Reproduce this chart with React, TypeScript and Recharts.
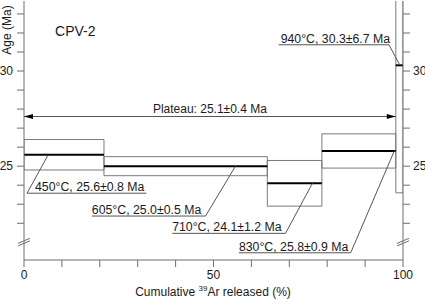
import React from "react";
import {
  ComposedChart,
  XAxis,
  YAxis,
  ReferenceArea,
  ReferenceLine,
  ReferenceDot,
} from "recharts";

// step-heating data
const stepStart = [0, 21.1, 64.2, 78.6, 98.1];
const stepEnd = [21.1, 64.2, 78.6, 98.1, 100];
const stepAge = [25.6, 25.0, 24.1, 25.8, 30.3];
const stepErr = [0.8, 0.5, 1.2, 0.9, 6.7];
const stepTemp = [450, 605, 710, 830, 940];

const plateauAge = 25.1;
const plateauErr = 0.4;
const plateauFrom = 0;
const plateauTo = 98.1;

const sampleName = "CPV-2";

const xTicks = [0, 10, 20, 30, 40, 50, 60, 70, 80, 90, 100];
const xTickLabels = [0, 50, 100];
const yTicks = [22, 23, 24, 25, 26, 27, 28, 29, 30, 31, 32, 33];
const yTickLabels = [25, 30];

// where the step labels sit (underline from/to in %, underline level in Ma, pin = x on step line)
const labelLayout = [
  { from: 0.8, to: 32.3, level: 23.58, pin: 6.4, leftPin: true, dx: 8 },
  { from: 17.9, to: 47.9, level: 22.38, pin: 55.8, leftPin: false, dx: 0 },
  { from: 39.1, to: 69.0, level: 21.47, pin: 76.1, leftPin: false, dx: 0 },
  { from: 56.7, to: 86.2, level: 20.45, pin: 97.7, leftPin: false, dx: 0 },
  { from: 67.2, to: 96.3, level: 31.38, pin: 99.2, leftPin: false, dx: 2 },
];
const plateauLevel = 27.61;
const breakLevel = 21.05;

const W = 425;
const H = 299;
const yDomain = [20.07, 33.68];
const FONT = "'Liberation Sans', Arial, sans-serif";
const TEXT = "#1a1a1a";
const AXIS = "#6e6e6e";
const BOX = "#7a7a7a";
const LEADER = "#555";

const fmt = (i: number) =>
  `${stepTemp[i]}°C, ${stepAge[i].toFixed(1)}±${stepErr[i].toFixed(1)} Ma`;

export default function App() {
  const common = { xAxisId: "b", yAxisId: "l" };

  return (
    <div style={{ position: "absolute", left: 0, top: 0, width: W, height: H, fontFamily: FONT, background: "#fff" }}>
      <ComposedChart width={W} height={H} data={[]} margin={{ top: 1, right: 0, bottom: 0, left: 0 }}>
        <XAxis
          xAxisId="b"
          type="number"
          dataKey="x"
          domain={[0, 100]}
          ticks={xTicks}
          interval={0}
          allowDataOverflow
          height={39}
          tickSize={7}
          tickMargin={3}
          stroke={AXIS}
          tick={{ fill: TEXT, fontSize: 12 }}
          tickFormatter={(v: number) => (xTickLabels.includes(v) ? String(v) : "")}
        />
        <XAxis
          xAxisId="t"
          orientation="top"
          type="number"
          domain={[0, 100]}
          height={0}
          tick={false}
          tickLine={false}
          stroke={AXIS}
        />
        <YAxis
          yAxisId="l"
          type="number"
          domain={yDomain}
          ticks={yTicks}
          interval={0}
          allowDataOverflow
          width={24}
          tickSize={7}
          tickMargin={4}
          stroke={AXIS}
          tick={{ fill: TEXT, fontSize: 12 }}
          tickFormatter={(v: number) => (yTickLabels.includes(v) ? String(v) : "")}
        />
        <YAxis
          yAxisId="r"
          orientation="right"
          type="number"
          domain={yDomain}
          ticks={yTicks}
          interval={0}
          allowDataOverflow
          width={22}
          tickSize={7}
          tickMargin={3}
          stroke={AXIS}
          tick={{ fill: TEXT, fontSize: 12 }}
          tickFormatter={(v: number) => (yTickLabels.includes(v) ? String(v) : "")}
        />

        {/* error boxes */}
        {stepAge.map((a, i) => (
          <ReferenceArea
            key={"box" + i}
            {...common}
            x1={stepStart[i]}
            x2={stepEnd[i]}
            y1={a - stepErr[i]}
            y2={a + stepErr[i]}
            fill="none"
            stroke={BOX}
            strokeWidth={1}
            ifOverflow="hidden"
          />
        ))}

        {/* step ages */}
        {stepAge.map((a, i) => (
          <ReferenceLine
            key={"age" + i}
            {...common}
            segment={[
              { x: stepStart[i], y: a },
              { x: stepEnd[i], y: a },
            ]}
            stroke="#000"
            strokeWidth={2}
          />
        ))}

        {/* plateau arrow */}
        <ReferenceLine
          {...common}
          segment={[
            { x: plateauFrom, y: plateauLevel },
            { x: plateauTo, y: plateauLevel },
          ]}
          stroke={LEADER}
          strokeWidth={1}
        />
        <ReferenceDot
          {...common}
          x={plateauFrom}
          y={plateauLevel}
          shape={(p: any) => (
            <polygon points={`${p.cx},${p.cy} ${p.cx + 9},${p.cy - 2.5} ${p.cx + 9},${p.cy + 2.5}`} fill="#000" />
          )}
        />
        <ReferenceDot
          {...common}
          x={plateauTo}
          y={plateauLevel}
          shape={(p: any) => (
            <polygon points={`${p.cx},${p.cy} ${p.cx - 9},${p.cy - 2.5} ${p.cx - 9},${p.cy + 2.5}`} fill="#000" />
          )}
        />
        <ReferenceDot
          {...common}
          x={(plateauFrom + plateauTo) / 2}
          y={plateauLevel}
          shape={(p: any) => (
            <text x={p.cx} y={p.cy - 4} textAnchor="middle" fontSize={12} fill={TEXT}>
              {`Plateau: ${plateauAge.toFixed(1)}±${plateauErr.toFixed(1)} Ma`}
            </text>
          )}
        />

        {/* step labels: underline + leader + text */}
        {labelLayout.map((l, i) => (
          <ReferenceLine
            key={"ul" + i}
            {...common}
            segment={[
              { x: l.from, y: l.level },
              { x: l.to, y: l.level },
            ]}
            stroke={LEADER}
            strokeWidth={1}
          />
        ))}
        {labelLayout.map((l, i) => (
          <ReferenceLine
            key={"ld" + i}
            {...common}
            segment={[
              { x: l.leftPin ? l.from : l.to, y: l.level },
              { x: l.pin, y: stepAge[i] },
            ]}
            stroke={LEADER}
            strokeWidth={1}
          />
        ))}
        {labelLayout.map((l, i) => (
          <ReferenceDot
            key={"tx" + i}
            {...common}
            x={l.from}
            y={l.level}
            shape={(p: any) => (
              <text x={p.cx + l.dx} y={p.cy - 2} fontSize={12.3} fill={TEXT}>
                {fmt(i)}
              </text>
            )}
          />
        ))}

        {/* sample name */}
        <ReferenceDot
          {...common}
          x={8.2}
          y={32.12}
          shape={(p: any) => (
            <text x={p.cx} y={p.cy + 5} fontSize={14} fill={TEXT}>
              {sampleName}
            </text>
          )}
        />

        {/* axis breaks */}
        {[0, 100].map((x) => (
          <ReferenceDot
            key={"brk" + x}
            {...common}
            x={x}
            y={breakLevel}
            shape={(p: any) => (
              <g stroke={AXIS} strokeWidth={1}>
                <line x1={p.cx - 6} y1={p.cy + 2} x2={p.cx + 6} y2={p.cy - 3} />
                <line x1={p.cx - 6} y1={p.cy + 4.5} x2={p.cx + 6} y2={p.cy - 0.5} />
              </g>
            )}
          />
        ))}
      </ComposedChart>

      <svg width={W} height={H} style={{ position: "absolute", left: 0, top: 0, pointerEvents: "none" }}>
        <text
          transform="translate(11,30) rotate(-90)"
          textAnchor="middle"
          fontSize={12}
          fill={TEXT}
          fontFamily={FONT}
        >
          Age (Ma)
        </text>
        <text x={213} y={296} textAnchor="middle" fontSize={12} fill={TEXT} fontFamily={FONT}>
          Cumulative <tspan fontSize={8} dy={-5}>39</tspan>
          <tspan dy={5}>Ar released (%)</tspan>
        </text>
      </svg>
    </div>
  );
}
